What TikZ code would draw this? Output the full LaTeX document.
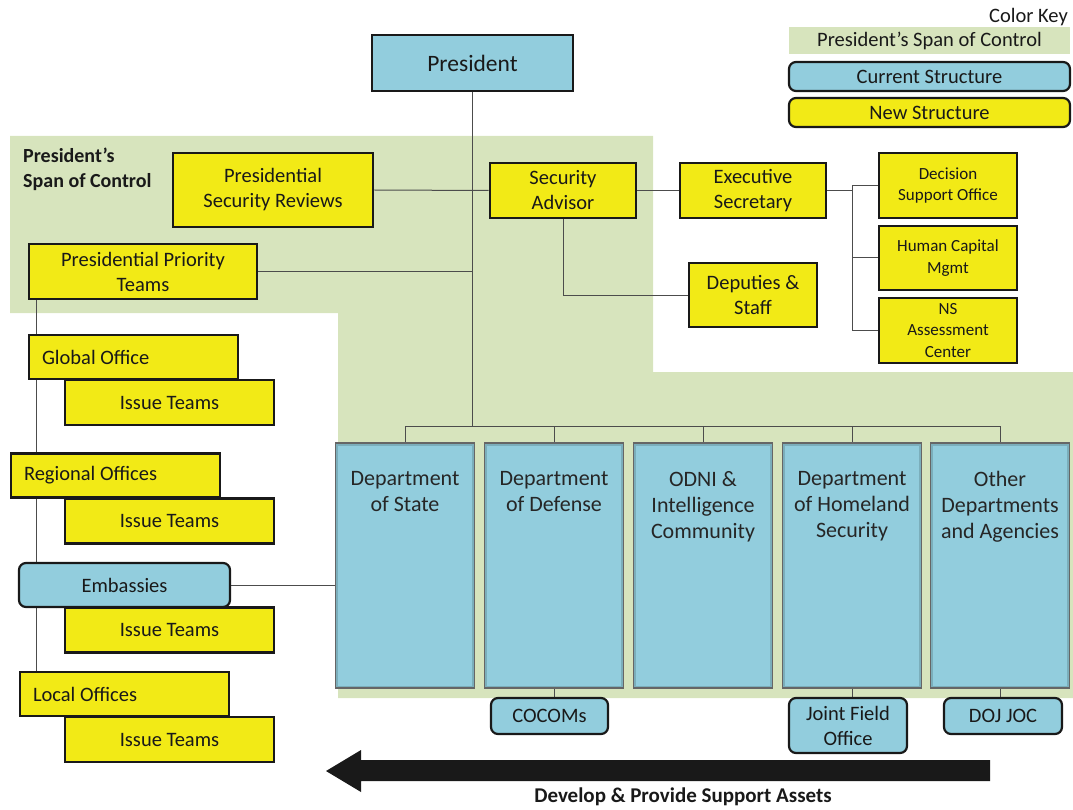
\documentclass[tikz,border=0pt]{standalone}
\usepackage{fontspec}
\setmainfont{Carlito}
\usetikzlibrary{positioning,backgrounds}
\definecolor{spangreen}{RGB}{215,228,189}
\definecolor{curblue}{RGB}{146,205,221}
\definecolor{newyellow}{RGB}{242,234,22}

\begin{document}
\begin{tikzpicture}[x=1pt, y=-1pt,
    box/.style={rectangle, draw=black!90, line width=2.8pt, fill=#1, inner sep=2pt, align=center, text=black!90, font=\fontsize{20.5}{25}\selectfont},
    rbox/.style={box=#1, rounded corners=7pt, line width=2.2pt},
    rbox/.default=curblue,
    small/.style={inner sep=1pt, font=\fontsize{17}{21.5}\selectfont},
    sz/.style 2 args={minimum width=#1pt, minimum height=#2pt},
    office/.style={box=newyellow, sz={209}{44}, inner xsep=13pt, text width=183pt, align=flush left},
    dept/.style={rectangle, draw=black!60, line width=1.5pt, fill=curblue, sz={139}{245},
        path picture={\draw[curblue!70!black, line width=5pt, opacity=.5] (path picture bounding box.south west) rectangle (path picture bounding box.north east);}},
    dtext/.style={anchor=north, align=center, inner sep=0pt, text=black!85, font=\fontsize{22}{26}\selectfont},
    conn/.style={draw=black!70, line width=1pt}
]
\useasboundingbox (0,0) rectangle (1073,810);

\node[box=curblue, sz={201}{56}, font=\fontsize{23.5}{28}\selectfont] (pres) at (472.5,63) {President};

\node[anchor=north east, inner sep=0pt, text=black!90, font=\fontsize{20.5}{25}\selectfont] (keytitle) at (1068,8) {Color Key};
\node[fill=spangreen, sz={281}{27}, inner sep=0pt, text=black!90, font=\fontsize{20.5}{25}\selectfont] (keyspan) at (929.5,40.5) {President’s Span of Control};
\node[rbox, sz={281}{29}, inner sep=0pt] (keycur) at (929.5,76.5) {Current Structure};
\node[rbox=newyellow, sz={281}{29}, inner sep=0pt] (keynew) at (929.5,112.5) {New Structure};

\node[anchor=north west, align=left, inner sep=0pt, text=black!90, font=\bfseries\fontsize{20}{25}\selectfont] (spanlbl) at (23,148) {President’s\\Span of Control};

\node[box=newyellow, sz={200}{74}] (psr) at (273,190) {Presidential\\Security Reviews};
\node[box=newyellow, sz={146}{55}] (sa) at (563,190.5) {Security\\Advisor};
\node[box=newyellow, sz={146}{55}] (es) at (753,190.5) {Executive\\Secretary};
\node[box=newyellow, sz={128}{64}] (dep) at (753,295) {Deputies \&\\Staff};
\node[box=newyellow, sz={138}{65}, small] (dso) at (948,185.5) {Decision\\Support Office};
\node[box=newyellow, sz={138}{64}, small] (hcm) at (948,258) {Human Capital\\Mgmt};
\node[box=newyellow, sz={138}{65}, small] (nsac) at (948,330.5) {NS\\Assessment\\Center};
\coordinate (esfork) at (852,190.5);

\node[box=newyellow, sz={228}{55}] (ppt) at (143,271.5) {Presidential Priority\\Teams};
\node[office] (glob) at (133.5,357) {Global Office};
\node[office] (reg) at (115.5,475.5) {Regional Offices};
\node[rbox, sz={211}{44}] (emb) at (124.5,585) {Embassies};
\node[office] (loc) at (124.5,694) {Local Offices};
\foreach \i/\y in {1/402.5,2/521,3/630,4/739.5}
    \node[box=newyellow, sz={209}{45}] (it\i) at (169.5,\y) {Issue Teams};

\foreach \n/\x/\t in {state/405/{Department\\of State}, def/554/{Department\\of Defense}, odni/703/{ODNI \&\\Intelligence\\Community}, dhs/852/{Department\\of Homeland\\Security}, other/1000/{Other\\Departments\\and Agencies}} {
    \node[dept] (\n) at (\x,565.5) {};
    \node[dtext] (\n-t) at ([yshift=-29pt]\n.north) {\t};
}
\coordinate (bus) at (472.5,426);

\node[rbox, sz={117}{36}] (cocom) at (549.5,716) {COCOMs};
\node[rbox, sz={118}{55}] (jfo) at (848,725.5) {Joint Field\\Office};
\node[rbox, sz={118}{36}] (doj) at (1003,716) {DOJ JOC};

\fill[black!90] (990,760) -- (361,760) -- (361,750) -- (326,771) -- (361,792) -- (361,781) -- (990,781) -- cycle;
\node[inner sep=0pt, text=black!90, font=\bfseries\fontsize{21}{25}\selectfont] (assets) at (683,797) {Develop \& Provide Support Assets};

\begin{scope}[on background layer]
\fill[spangreen] (10,136) -- (653,136) -- (653,372) -- (1073,372) -- (1073,698) -- (338,698) -- (338,313) -- (10,313) -- cycle;
\draw[conn] (pres.south) -- (bus);
\foreach \n in {state,def,odni,dhs,other}
    \draw[conn] (bus) -| (\n.north);
\draw[conn] (ppt.east) -- (ppt.east -| pres.south);
\draw[conn] (psr.east) -- (sa.west);
\draw[conn] (sa.east) -- (es.west);
\draw[conn] (sa.south) |- (dep.west);
\draw[conn] (es.east) -- (esfork);
\foreach \n in {dso,hcm,nsac}
    \draw[conn] (esfork) |- (\n.west);
\draw[conn] ([xshift=9pt]ppt.south west) -- ([xshift=9pt]ppt.south west |- loc.north);
\draw[conn] (emb.east) -- (emb.east -| state.west);
\draw[conn] (def.south) -- (def.south |- cocom.north);
\draw[conn] (dhs.south) -- (dhs.south |- jfo.north);
\draw[conn] (other.south) -- (other.south |- doj.north);
\end{scope}
\end{tikzpicture}
\end{document}
